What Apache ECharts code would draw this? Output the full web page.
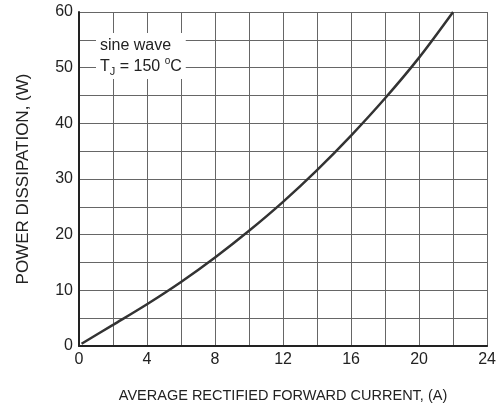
<!DOCTYPE html>
<html>
<head>
<meta charset="utf-8">
<script src="https://cdn.jsdelivr.net/npm/echarts@6/dist/echarts.min.js"></script>
<style>html,body{margin:0;padding:0;background:#fff;}#c{width:499px;height:409px;}</style>
</head>
<body>
<div id="c"></div>
<script>
var currentA = [0.15, 2, 4, 6, 8, 10, 12, 14, 16, 18, 20, 22];
var powerW   = [0.4, 3.8, 7.5, 11.5, 15.9, 20.7, 25.9, 31.6, 37.8, 44.5, 51.8, 60];
var xTickLabels = [0, 4, 8, 12, 16, 20, 24];
var yTickLabels = [0, 10, 20, 30, 40, 50, 60];
var xTitle = 'AVERAGE RECTIFIED FORWARD CURRENT, (A)';
var yTitle = 'POWER DISSIPATION, (W)';

var narrow = '"Liberation Sans Narrow", "Liberation Sans", Arial, sans-serif';
var regular = '"Liberation Sans", Arial, sans-serif';

var chart = echarts.init(document.getElementById('c'), null, {renderer: 'canvas'});
chart.setOption({
  animation: false,
  backgroundColor: '#fff',
  grid: {left: 79, top: 12, right: 7, bottom: 63, containLabel: false},
  title: {
    left: 96, top: 33,
    backgroundColor: '#fff',
    padding: [2, 4, 2, 4],
    text: 'sine wave\nT{sub|J} = 150 {sup|o}C',
    textStyle: {
      fontFamily: regular, fontSize: 16, fontWeight: 'normal', color: '#222', lineHeight: 21,
      rich: {
        sub: {fontFamily: regular, fontSize: 11, color: '#222', verticalAlign: 'bottom', padding: [8, 0, 0, 0]},
        sup: {fontFamily: regular, fontSize: 10, color: '#222', verticalAlign: 'top', padding: [0, 0, 8, 0]}
      }
    }
  },
  xAxis: {
    type: 'value', min: 0, max: 24, interval: 2,
    name: xTitle, nameLocation: 'middle', nameGap: 42,
    nameTextStyle: {fontFamily: regular, fontSize: 14.5, color: '#222'},
    axisLine: {show: true, onZero: false, lineStyle: {color: '#222', width: 2}},
    axisTick: {show: false},
    axisLabel: {
      fontFamily: narrow, fontSize: 16, color: '#222', margin: 6,
      formatter: function (v) { return xTickLabels.indexOf(v) >= 0 ? String(v) : ''; }
    },
    splitLine: {show: true, lineStyle: {color: '#666', width: 1}}
  },
  yAxis: {
    type: 'value', min: 0, max: 60, interval: 5,
    name: yTitle, nameLocation: 'middle', nameGap: 47, nameRotate: 90,
    nameTextStyle: {fontFamily: regular, fontSize: 17, color: '#222'},
    axisLine: {show: true, onZero: false, lineStyle: {color: '#222', width: 2}},
    axisTick: {show: false},
    axisLabel: {
      fontFamily: narrow, fontSize: 16, color: '#222', margin: 6,
      formatter: function (v) { return yTickLabels.indexOf(v) >= 0 ? String(v) : ''; }
    },
    splitLine: {show: true, lineStyle: {color: '#666', width: 1}}
  },
  series: [{
    type: 'line',
    data: currentA.map(function (x, i) { return [x, powerW[i]]; }),
    smooth: 0.3,
    showSymbol: false,
    lineStyle: {color: '#333', width: 2.5},
    z: 5
  }]
});
</script>
</body>
</html>
